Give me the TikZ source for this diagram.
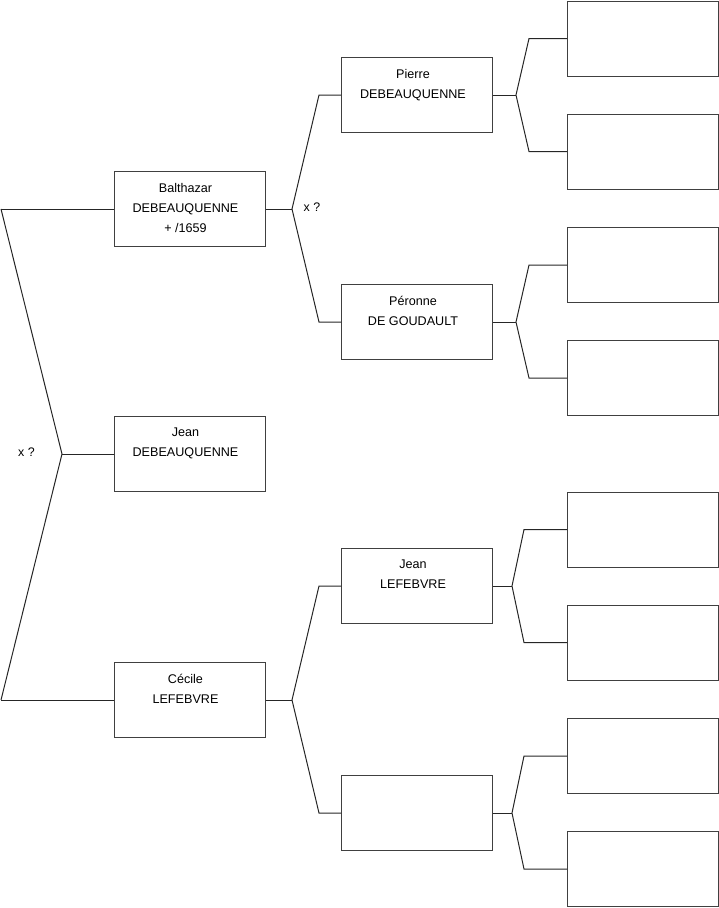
\documentclass[tikz,border=0pt]{standalone}
\usepackage{fontspec}
\setmainfont{Liberation Sans}
\usetikzlibrary{calc}
\begin{document}
\begin{tikzpicture}[x=1pt,y=-1pt,
 box/.style={draw=black!75, line width=1pt, minimum width=151pt, minimum height=75pt, inner sep=0pt, anchor=north west},
 txt/.style={anchor=north, align=center, inner sep=0pt, font=\fontsize{12.6}{20}\selectfont},
 lnk/.style={draw=black!85, line width=1pt},
 lbl/.style={inner sep=0pt, font=\fontsize{12.4}{14}\selectfont}]
\useasboundingbox (0,0) rectangle (719,908);
% left column
\node[box] (b1) at (114,171) {};
\node[box] (b2) at (114,416) {};
\node[box] (b3) at (114,662) {};
% middle column
\node[box] (m1) at (341,57) {};
\node[box] (m2) at (341,284) {};
\node[box] (m3) at (341,548) {};
\node[box] (m4) at (341,775) {};
% right column
\node[box] (r1) at (567,0.5) {};
\node[box] (r2) at (567,113.5) {};
\node[box] (r3) at (567,227) {};
\node[box] (r4) at (567,340) {};
\node[box] (r5) at (567,491.5) {};
\node[box] (r6) at (567,604.5) {};
\node[box] (r7) at (567,718) {};
\node[box] (r8) at (567,831) {};
% texts
\node[txt] (t1) at ($(b1.north)+(-4.5,12)$) {Balthazar\\DEBEAUQUENNE\\+ /1659};
\node[txt] (t2) at ($(b2.north)+(-4.5,12)$) {Jean\\DEBEAUQUENNE};
\node[txt] (t3) at ($(b3.north)+(-4.5,12)$) {Cécile\\LEFEBVRE};
\node[txt] (t4) at ($(m1.north)+(-4,12)$) {Pierre\\DEBEAUQUENNE};
\node[txt] (t5) at ($(m2.north)+(-4,12)$) {Péronne\\DE GOUDAULT};
\node[txt] (t6) at ($(m3.north)+(-4,12)$) {Jean\\LEFEBVRE};
% left bracket
\coordinate (L1) at ($(b1.west)+(-113,0)$);
\coordinate (L2) at ($(b3.west)+(-113,0)$);
\coordinate (F0) at ($(b2.west)+(-52,0)$);
\draw[lnk] (L1) -- (b1.west);
\draw[lnk] (L2) -- (b3.west);
\draw[lnk] (L1) -- (F0) -- (L2);
\draw[lnk] (F0) -- (b2.west);
\node[lbl] (x1) at (26.5,452) {x ?};
% middle forks
\coordinate (F1) at ($(b1.east)+(26,0)$);
\draw[lnk] (b1.east) -- (F1);
\draw[lnk] (m1.west) -- ([xshift=-22pt]m1.west) -- (F1) -- ([xshift=-22pt]m2.west) -- (m2.west);
\node[lbl] (x2) at (312,207) {x ?};
\coordinate (F2) at ($(b3.east)+(26,0)$);
\draw[lnk] (b3.east) -- (F2);
\draw[lnk] (m3.west) -- ([xshift=-22pt]m3.west) -- (F2) -- ([xshift=-22pt]m4.west) -- (m4.west);
% right forks (top half)
\coordinate (G1) at ($(m1.east)+(23,0)$);
\draw[lnk] (m1.east) -- (G1);
\draw[lnk] (r1.west) -- ([xshift=-38pt]r1.west) -- (G1) -- ([xshift=-38pt]r2.west) -- (r2.west);
\coordinate (G2) at ($(m2.east)+(23,0)$);
\draw[lnk] (m2.east) -- (G2);
\draw[lnk] (r3.west) -- ([xshift=-38pt]r3.west) -- (G2) -- ([xshift=-38pt]r4.west) -- (r4.west);
% right forks (bottom half)
\coordinate (G3) at ($(m3.east)+(19,0)$);
\draw[lnk] (m3.east) -- (G3);
\draw[lnk] (r5.west) -- ([xshift=-43pt]r5.west) -- (G3) -- ([xshift=-43pt]r6.west) -- (r6.west);
\coordinate (G4) at ($(m4.east)+(19,0)$);
\draw[lnk] (m4.east) -- (G4);
\draw[lnk] (r7.west) -- ([xshift=-43pt]r7.west) -- (G4) -- ([xshift=-43pt]r8.west) -- (r8.west);
\end{tikzpicture}
\end{document}
